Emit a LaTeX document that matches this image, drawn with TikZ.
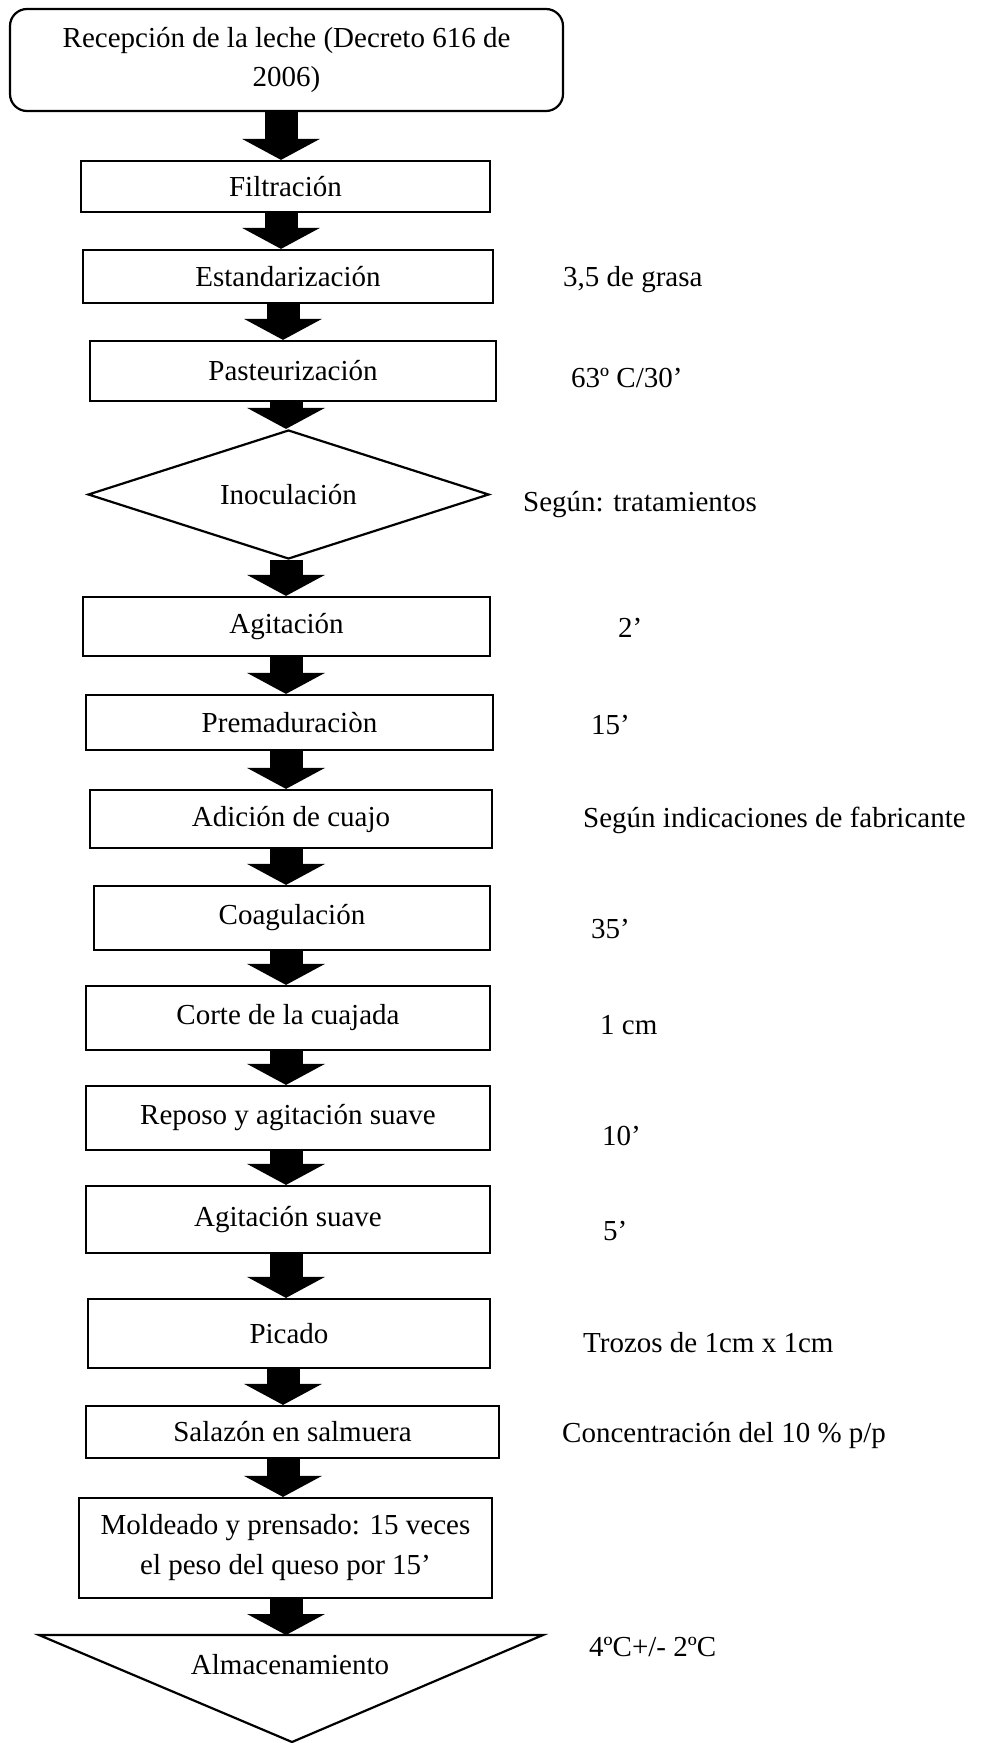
\documentclass[tikz,border=0pt]{standalone}
\usepackage{fontspec}
\setmainfont{Liberation Serif}
\usetikzlibrary{shapes.geometric,arrows.meta}
\begin{document}
\begin{tikzpicture}[x=1pt,y=-1pt,
  every node/.style={font=\fontsize{29}{40}\selectfont},
  box/.style={draw, line width=2.2pt, inner sep=0pt, align=center},
  lbl/.style={anchor=west, inner sep=0pt},
  barrow/.style={line width=33pt, -{Triangle[length=21pt,width=77pt]}},
]
\useasboundingbox (0,0) rectangle (988,1743);
\fill[white] (0,0) rectangle (988,1743);

\node[box, rounded corners=17pt, minimum width=553pt, minimum height=102pt] (rec) at (286.5,60)
  {Recepción de la leche (Decreto 616 de\\[-1pt]2006)};
\node[box, minimum width=409pt, minimum height=51pt] (fil) at (285.5,186.5) {Filtración};
\node[box, minimum width=410pt, minimum height=53pt] (est) at (288,276.5) {Estandarización};
\node[box, minimum width=406pt, minimum height=60pt] (pas) at (293,371) {Pasteurización};
\node[box, diamond, aspect=3.1, minimum width=401pt, minimum height=129pt] (ino) at (288.5,494.5) {Inoculación};
\node[box, minimum width=407pt, minimum height=59pt] (agi) at (286.5,626.5) {Agitación};
\node[box, minimum width=407pt, minimum height=55pt] (pre) at (289.5,722.5) {Premaduraciòn};
\node[box, minimum width=402pt, minimum height=58pt] (adi) at (291,819) {Adición de cuajo};
\node[box, minimum width=396pt, minimum height=64pt] (coa) at (292,918) {Coagulación};
\node[box, minimum width=404pt, minimum height=64pt] (cor) at (288,1018) {Corte de la cuajada};
\node[box, minimum width=404pt, minimum height=64pt] (rep) at (288,1118) {Reposo y agitación suave};
\node[box, minimum width=404pt, minimum height=67pt] (ags) at (288,1219.5) {Agitación suave};
\node[box, minimum width=402pt, minimum height=69pt] (pic) at (289,1333.5) {Picado};
\node[box, minimum width=413pt, minimum height=52pt] (sal) at (292.5,1432) {Salazón en salmuera};
\node[box, minimum width=413pt, minimum height=100pt] (mol) at (285.5,1548)
  {Moldeado y prensado: 15 veces\\el peso del queso por 15’};

\coordinate (ttl) at (39,1635);
\coordinate (ttr) at (543,1635);
\coordinate (tbt) at (292,1742);
\draw[line width=2.2pt, line join=miter] (ttl) -- (ttr) -- (tbt) -- cycle;
\node (alm) at (290,1665) {Almacenamiento};

\coordinate (xa) at (281,0);
\coordinate (xc) at (283,0);
\coordinate (xb) at (286,0);
\coordinate (xd) at (283,0);

\draw[barrow] (rec.south -| xa) -- (fil.north -| xa);
\draw[barrow] (fil.south -| xa) -- (est.north -| xa);
\draw[barrow] (est.south -| xc) -- (pas.north -| xc);
\draw[barrow] (pas.south -| xb) -- (ino.north -| xb);
\draw[barrow] (ino.south -| xb) -- (agi.north -| xb);
\draw[barrow] (agi.south -| xb) -- (pre.north -| xb);
\draw[barrow] (pre.south -| xb) -- (adi.north -| xb);
\draw[barrow] (adi.south -| xb) -- (coa.north -| xb);
\draw[barrow] (coa.south -| xb) -- (cor.north -| xb);
\draw[barrow] (cor.south -| xb) -- (rep.north -| xb);
\draw[barrow] (rep.south -| xb) -- (ags.north -| xb);
\draw[barrow] (ags.south -| xb) -- (pic.north -| xb);
\draw[barrow] (pic.south -| xd) -- (sal.north -| xd);
\draw[barrow] (sal.south -| xd) -- (mol.north -| xd);
\draw[barrow] (mol.south -| xb) -- (ttl -| xb);

\node[lbl] (l1) at (563,280) {3,5 de grasa};
\node[lbl] (l2) at (571,378) {63º C/30’};
\node[lbl] (l3) at (523,505) {Según: tratamientos};
\node[lbl] (l4) at (618,628) {2’};
\node[lbl] (l5) at (591,725) {15’};
\node[lbl] (l6) at (583,820) {Según indicaciones de fabricante};
\node[lbl] (l7) at (591,929) {35’};
\node[lbl] (l8) at (600,1025) {1 cm};
\node[lbl] (l9) at (602,1136) {10’};
\node[lbl] (l10) at (603,1231) {5’};
\node[lbl] (l11) at (583,1343) {Trozos de 1cm x 1cm};
\node[lbl] (l12) at (562,1435) {Concentración del 10 \% p/p};
\node[lbl] (l13) at (589,1647) {4ºC+/- 2ºC};
\end{tikzpicture}
\end{document}
